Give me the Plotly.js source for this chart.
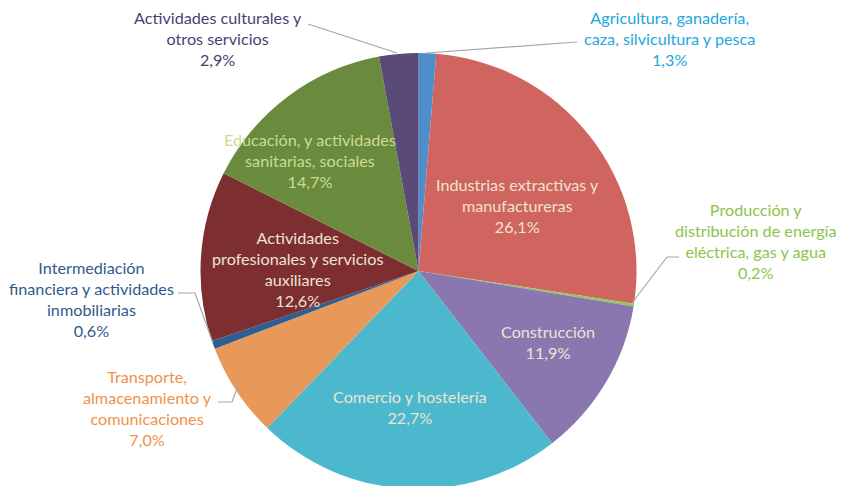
<!DOCTYPE html>
<html>
<head>
<meta charset="utf-8">
<script src="https://cdn.plot.ly/plotly-3.0.1.min.js"></script>
<style>
html,body{margin:0;padding:0;background:#fff;overflow:hidden;}
#chart{width:842px;height:490px;}
</style>
</head>
<body>
<div id="chart"></div>
<script>
// ---- data ----
const labels = [
  "Agricultura, ganadería,<br>caza, silvicultura y pesca",
  "Industrias extractivas y<br>manufactureras",
  "Producción y<br>distribución de energía<br>eléctrica, gas y agua",
  "Construcción",
  "Comercio y hostelería",
  "Transporte,<br>almacenamiento y<br>comunicaciones",
  "Intermediación<br>financiera y actividades<br>inmobiliarias",
  "Actividades<br>profesionales y servicios<br>auxiliares",
  "Educación, y actividades<br>sanitarias, sociales",
  "Actividades culturales y<br>otros servicios"
];
const values = [1.3, 26.1, 0.2, 11.9, 22.7, 7.0, 0.6, 12.6, 14.7, 2.9];
const percentLabels = ["1,3%","26,1%","0,2%","11,9%","22,7%","7,0%","0,6%","12,6%","14,7%","2,9%"];

// ---- styles ----
const sliceColors = ["#4E8FCB","#D0655F","#92C85A","#8A77B0","#4BB8CD","#E8995A","#2C5F8F","#7D2E31","#6A8A3E","#5A4A78"];
const textColors  = ["#22A7DE","#EDE3D3","#8DC44A","#EDE3D3","#EDE3D3","#F0924A","#2F5A8C","#EDE3D3","#C9DE8E","#4B3F72"];
// label block centres (pixels)
const labelPos = [[669,39],[517,206],[756,241],[548,342],[410,407],[147,408],[91,299],[297,269],[310,161],[218,39]];
// leader lines (pixels)
const leaders = [
  [[426,53],[577,42]],
  [[632,303],[667,257],[679,257]],
  [[397,53],[308,24]],
  [[213,343],[195,293],[178,293]],
  [[240,386],[236,391],[232,402],[218,402]]
];

const W = 842, H = 490;
const px = x => x / W;
const py = y => 1 - y / H;

const annotations = labels.map((l, i) => ({
  text: l + "<br>" + percentLabels[i],
  x: px(labelPos[i][0]), y: py(labelPos[i][1]),
  xref: "paper", yref: "paper", showarrow: false,
  xanchor: "center", yanchor: "middle", align: "center",
  font: {family: "Lato, 'Open Sans', sans-serif", size: 16.2, color: textColors[i]}
}));

const shapes = leaders.map(pts => ({
  type: "path", xref: "paper", yref: "paper",
  path: pts.map((p, j) => (j ? "L" : "M") + px(p[0]) + "," + py(p[1])).join(" "),
  line: {color: "#A6A6A6", width: 1.2}
}));

const cx = 418.5, cy = 271, r = 218;
Plotly.newPlot("chart", [{
  type: "pie",
  labels: labels,
  values: values,
  sort: false,
  direction: "clockwise",
  rotation: 0,
  textinfo: "none",
  hoverinfo: "label+percent",
  marker: {colors: sliceColors, line: {width: 0}},
  domain: {x: [px(cx - r), px(cx + r)], y: [py(cy + r), py(cy - r)]},
  showlegend: false
}], {
  width: W, height: H,
  margin: {l: 0, r: 0, t: 0, b: 0},
  paper_bgcolor: "#fff",
  annotations: annotations,
  shapes: shapes
}, {displayModeBar: false, staticPlot: true});
</script>
</body>
</html>
